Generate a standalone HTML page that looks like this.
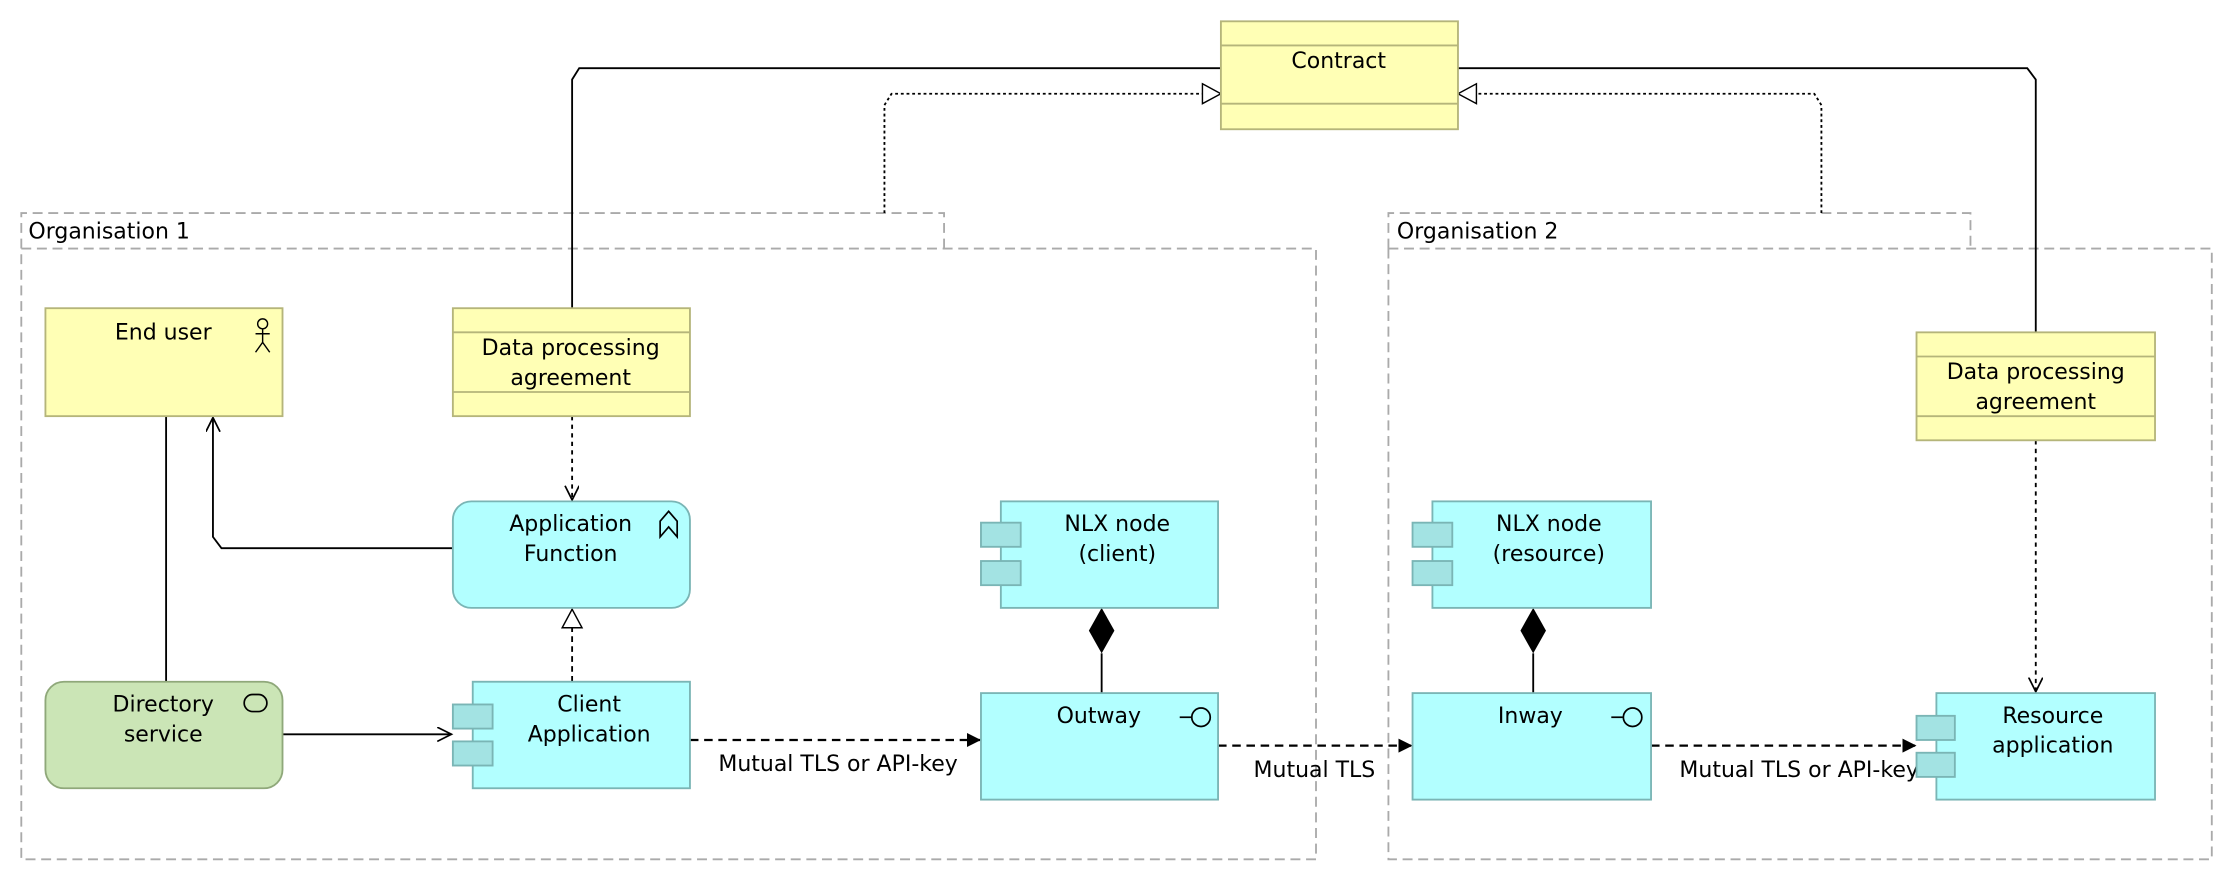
<!DOCTYPE html>
<html><head><meta charset="utf-8"><style>
html,body{margin:0;padding:0;background:#fff;}
svg{display:block;}
text{font-family:"DejaVu Sans","Liberation Sans",sans-serif;font-size:15.5px;fill:#000;}
</style></head><body>
<svg width="2226" height="882" viewBox="0 0 1568 621" preserveAspectRatio="none" xmlns="http://www.w3.org/2000/svg">
<defs>
<marker id="open" markerWidth="12" markerHeight="12" refX="10" refY="5" orient="auto" markerUnits="userSpaceOnUse"><path d="M0,0 L10,5 L0,10" fill="none" stroke="#000" stroke-width="1.2"/></marker>
<marker id="fill" markerWidth="12" markerHeight="12" refX="10" refY="5" orient="auto" markerUnits="userSpaceOnUse"><path d="M0,0 L10,5 L0,10 Z" fill="#000"/></marker>
<marker id="tri" markerWidth="16" markerHeight="18" refX="14" refY="8" orient="auto" markerUnits="userSpaceOnUse"><path d="M1,1 L14,8 L1,15 Z" fill="#fff" stroke="#000" stroke-width="1"/></marker>
</defs>
<g fill="none" stroke="#aaa" stroke-width="1.3" stroke-dasharray="7,4">
<path d="M15,175 V150 H665 V175"/><rect x="15" y="175" width="912" height="430"/>
<path d="M978,175 V150 H1388 V175"/><rect x="978" y="175" width="580" height="430"/>
</g>
<text x="20" y="168">Organisation 1</text>
<text x="984" y="168">Organisation 2</text>

<g fill="none" stroke="#000" stroke-width="1.3">
<path d="M403,217 V56 L408,48 H860"/>
<path d="M1027,48 H1428 L1434,56 V234"/>
<path d="M623,150 V74 L628,66 H860" stroke-dasharray="2,2" marker-end="url(#tri)"/>
<path d="M1283,150 V74 L1278,66 H1027" stroke-dasharray="2,2" marker-end="url(#tri)"/>
<path d="M117,293 V480"/>
<path d="M319,386 H156 L150,378 V294" marker-end="url(#open)"/>
<path d="M403,293 V352" stroke-dasharray="3,3" marker-end="url(#open)"/>
<path d="M403,480 V429" stroke-dasharray="4,3" marker-end="url(#tri)"/>
<path d="M199,517 H318" marker-end="url(#open)"/>
<path d="M486,521 H691" stroke-dasharray="6,4" stroke-width="1.6" marker-end="url(#fill)"/>
<path d="M858,525 H995" stroke-dasharray="6,4" stroke-width="1.6" marker-end="url(#fill)"/>
<path d="M1163,525 H1350" stroke-dasharray="6,4" stroke-width="1.6" marker-end="url(#fill)"/>
<path d="M1434,310 V487" stroke-dasharray="3,3" marker-end="url(#open)"/>
<path d="M776,488 V460"/><path d="M1080,488 V460"/>
</g>
<path d="M776,428 L785,444 L776,460 L767,444 Z" fill="#000"/>
<path d="M1080,428 L1089,444 L1080,460 L1071,444 Z" fill="#000"/>
<text x="506" y="543">Mutual TLS or API-key</text>
<text x="883" y="547">Mutual TLS</text>
<text x="1183" y="547">Mutual TLS or API-key</text>

<g fill="#ffffb5" stroke="#b5b57a" stroke-width="1.3">
<rect x="860" y="15" width="167" height="76"/><path d="M860,32H1027M860,73H1027" fill="none"/>
<rect x="32" y="217" width="167" height="76"/>
<rect x="319" y="217" width="167" height="76"/><path d="M319,234H486M319,276H486" fill="none"/>
<rect x="1350" y="234" width="168" height="76"/><path d="M1350,251H1518M1350,293H1518" fill="none"/>
</g>
<text x="943" y="48" text-anchor="middle">Contract</text>
<text x="115" y="239" text-anchor="middle">End user</text>
<g fill="none" stroke="#000" stroke-width="1"><circle cx="185" cy="228" r="3.5"/><path d="M185,231.5V241M180,235H190M180,248L185,241L190,248"/></g>
<text x="402" y="250" text-anchor="middle">Data processing</text>
<text x="402" y="271" text-anchor="middle">agreement</text>
<text x="1434" y="267" text-anchor="middle">Data processing</text>
<text x="1434" y="288" text-anchor="middle">agreement</text>

<g fill="#b2ffff" stroke="#7ab5b5" stroke-width="1.3">
<rect x="319" y="353" width="167" height="75" rx="13"/>
<rect x="705" y="353" width="153" height="75"/>
<rect x="691" y="368" width="28" height="17" fill="#a3e3e3"/><rect x="691" y="395" width="28" height="17" fill="#a3e3e3"/>
<rect x="333" y="480" width="153" height="75"/>
<rect x="319" y="496" width="28" height="17" fill="#a3e3e3"/><rect x="319" y="522" width="28" height="17" fill="#a3e3e3"/>
<rect x="691" y="488" width="167" height="75"/>
<rect x="1009" y="353" width="154" height="75"/>
<rect x="995" y="368" width="28" height="17" fill="#a3e3e3"/><rect x="995" y="395" width="28" height="17" fill="#a3e3e3"/>
<rect x="995" y="488" width="168" height="75"/>
<rect x="1364" y="488" width="154" height="75"/>
<rect x="1350" y="504" width="27" height="17" fill="#a3e3e3"/><rect x="1350" y="530" width="27" height="17" fill="#a3e3e3"/>
</g>
<rect x="32" y="480" width="167" height="75" rx="13" fill="#cbe5b6" stroke="#8fa87a" stroke-width="1.3"/>
<g fill="none" stroke="#000" stroke-width="1.2">
<path d="M465,378 V367 L471,360 L477,367 V378 L471,371 Z"/>
<rect x="172" y="489" width="16" height="12" rx="6"/>
<path d="M831,505 H839"/><circle cx="846" cy="505" r="6.5"/>
<path d="M1135,505 H1143"/><circle cx="1150" cy="505" r="6.5"/>
</g>
<text x="402" y="374" text-anchor="middle">Application</text>
<text x="402" y="395" text-anchor="middle">Function</text>
<text x="787" y="374" text-anchor="middle">NLX node</text>
<text x="787" y="395" text-anchor="middle">(client)</text>
<text x="1091" y="374" text-anchor="middle">NLX node</text>
<text x="1091" y="395" text-anchor="middle">(resource)</text>
<text x="115" y="501" text-anchor="middle">Directory</text>
<text x="115" y="522" text-anchor="middle">service</text>
<text x="415" y="501" text-anchor="middle">Client</text>
<text x="415" y="522" text-anchor="middle">Application</text>
<text x="774" y="509" text-anchor="middle">Outway</text>
<text x="1078" y="509" text-anchor="middle">Inway</text>
<text x="1446" y="509" text-anchor="middle">Resource</text>
<text x="1446" y="530" text-anchor="middle">application</text>
</svg>
</body></html>
